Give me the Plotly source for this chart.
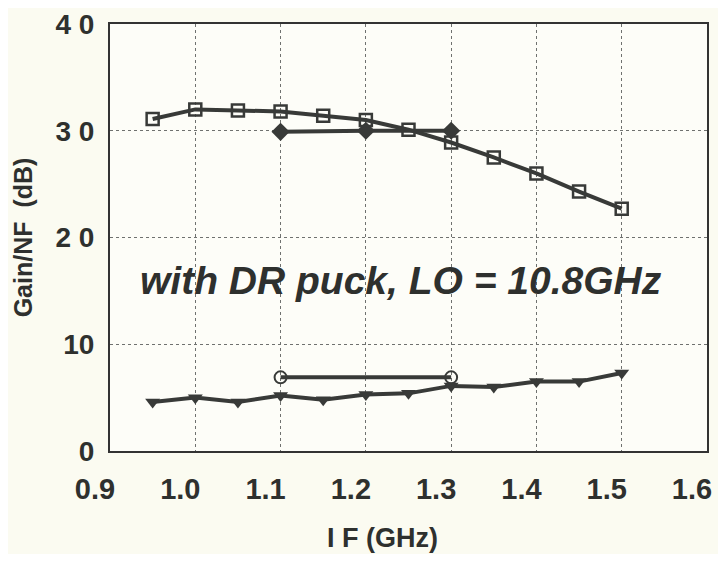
import plotly.graph_objects as go

x_gain = [0.95, 1.0, 1.05, 1.1, 1.15, 1.2, 1.25, 1.3, 1.35, 1.4, 1.45, 1.5]
gain = [31.1, 32.0, 31.9, 31.8, 31.4, 31.0, 30.1, 28.9, 27.5, 26.0, 24.3, 22.7]

x_gain2 = [1.1, 1.2, 1.3]
gain2 = [29.9, 30.0, 30.0]

x_nf = [0.95, 1.0, 1.05, 1.1, 1.15, 1.2, 1.25, 1.3, 1.35, 1.4, 1.45, 1.5]
nf = [4.6, 5.0, 4.6, 5.2, 4.8, 5.3, 5.4, 6.1, 6.0, 6.5, 6.5, 7.3]

x_nf2 = [1.1, 1.3]
nf2 = [6.9, 6.9]

x_ticks = [0.9, 1.0, 1.1, 1.2, 1.3, 1.4, 1.5, 1.6]
x_tick_text = ["0.9", "1.0", "1.1", "1.2", "1.3", "1.4", "1.5", "1.6"]
y_ticks = [0, 10, 20, 30, 40]
y_tick_text = ["0", "10", "2 0", "3 0", "4 0"]

LINE = "#383a38"
TXT = "#2e302e"
FONT = "Liberation Sans, Arial"
fig = go.Figure()

fig.add_trace(go.Scatter(x=x_gain2, y=gain2, mode="lines+markers",
                         line=dict(color=LINE, width=4),
                         marker=dict(symbol="diamond", size=14, color=LINE)))
fig.add_trace(go.Scatter(x=x_gain, y=gain, mode="lines+markers",
                         line=dict(color=LINE, width=4),
                         marker=dict(symbol="square-open", size=12, color=LINE,
                                     line=dict(width=2.5, color=LINE))))
fig.add_trace(go.Scatter(x=x_nf2, y=nf2, mode="lines+markers",
                         line=dict(color=LINE, width=4),
                         marker=dict(symbol="circle-open", size=12, color=LINE,
                                     line=dict(width=2, color=LINE))))
fig.add_trace(go.Scatter(x=x_nf, y=nf, mode="lines+markers",
                         line=dict(color=LINE, width=4),
                         marker=dict(symbol="triangle-down", size=13, color=LINE)))

fig.add_annotation(x=1.241, y=16.0, text="<b><i>with DR puck, LO = 10.8GHz</i></b>",
                   showarrow=False, xref="x", yref="y",
                   font=dict(family=FONT, size=39, color=TXT))

fig.add_annotation(x=0.457, y=0, xref="paper", yref="paper", yanchor="middle",
                   yshift=-87, showarrow=False, text="<b>I F (GHz)</b>",
                   font=dict(family=FONT, size=27, color=TXT))

fig.update_layout(
    width=710, height=546,
    paper_bgcolor="#fbfbf1", plot_bgcolor="#fdfdf8",
    margin=dict(l=102, r=11, t=16, b=103, autoexpand=False),
    showlegend=False,
    font=dict(family=FONT, color=TXT),
)
fig.update_xaxes(range=[0.9, 1.6], tickvals=x_ticks,
                 ticktext=["<b>%s</b>" % t for t in x_tick_text],
                 showgrid=True, gridcolor="#6f716f", griddash="dot", gridwidth=1,
                 showline=True, linecolor="#333333", linewidth=2, mirror=True,
                 zeroline=False, ticks="", ticklabelstandoff=11, ticklabelshift=-15,
                 automargin=False, ticklabeloverflow="allow",
                 tickfont=dict(size=29, family=FONT, color=TXT))
fig.update_yaxes(range=[0, 40], tickvals=y_ticks,
                 ticktext=["<b>%s</b>" % t for t in y_tick_text],
                 showgrid=True, gridcolor="#6f716f", griddash="dot", gridwidth=1,
                 showline=True, linecolor="#333333", linewidth=2, mirror=True,
                 zeroline=False, ticks="", ticklabelstandoff=8, automargin=False,
                 ticklabeloverflow="allow",
                 tickfont=dict(size=28, family=FONT, color=TXT),
                 title=dict(text="<b>Gain/NF  (dB)</b>", font=dict(size=25, color=TXT), standoff=16))

fig.write_html("out.html")
